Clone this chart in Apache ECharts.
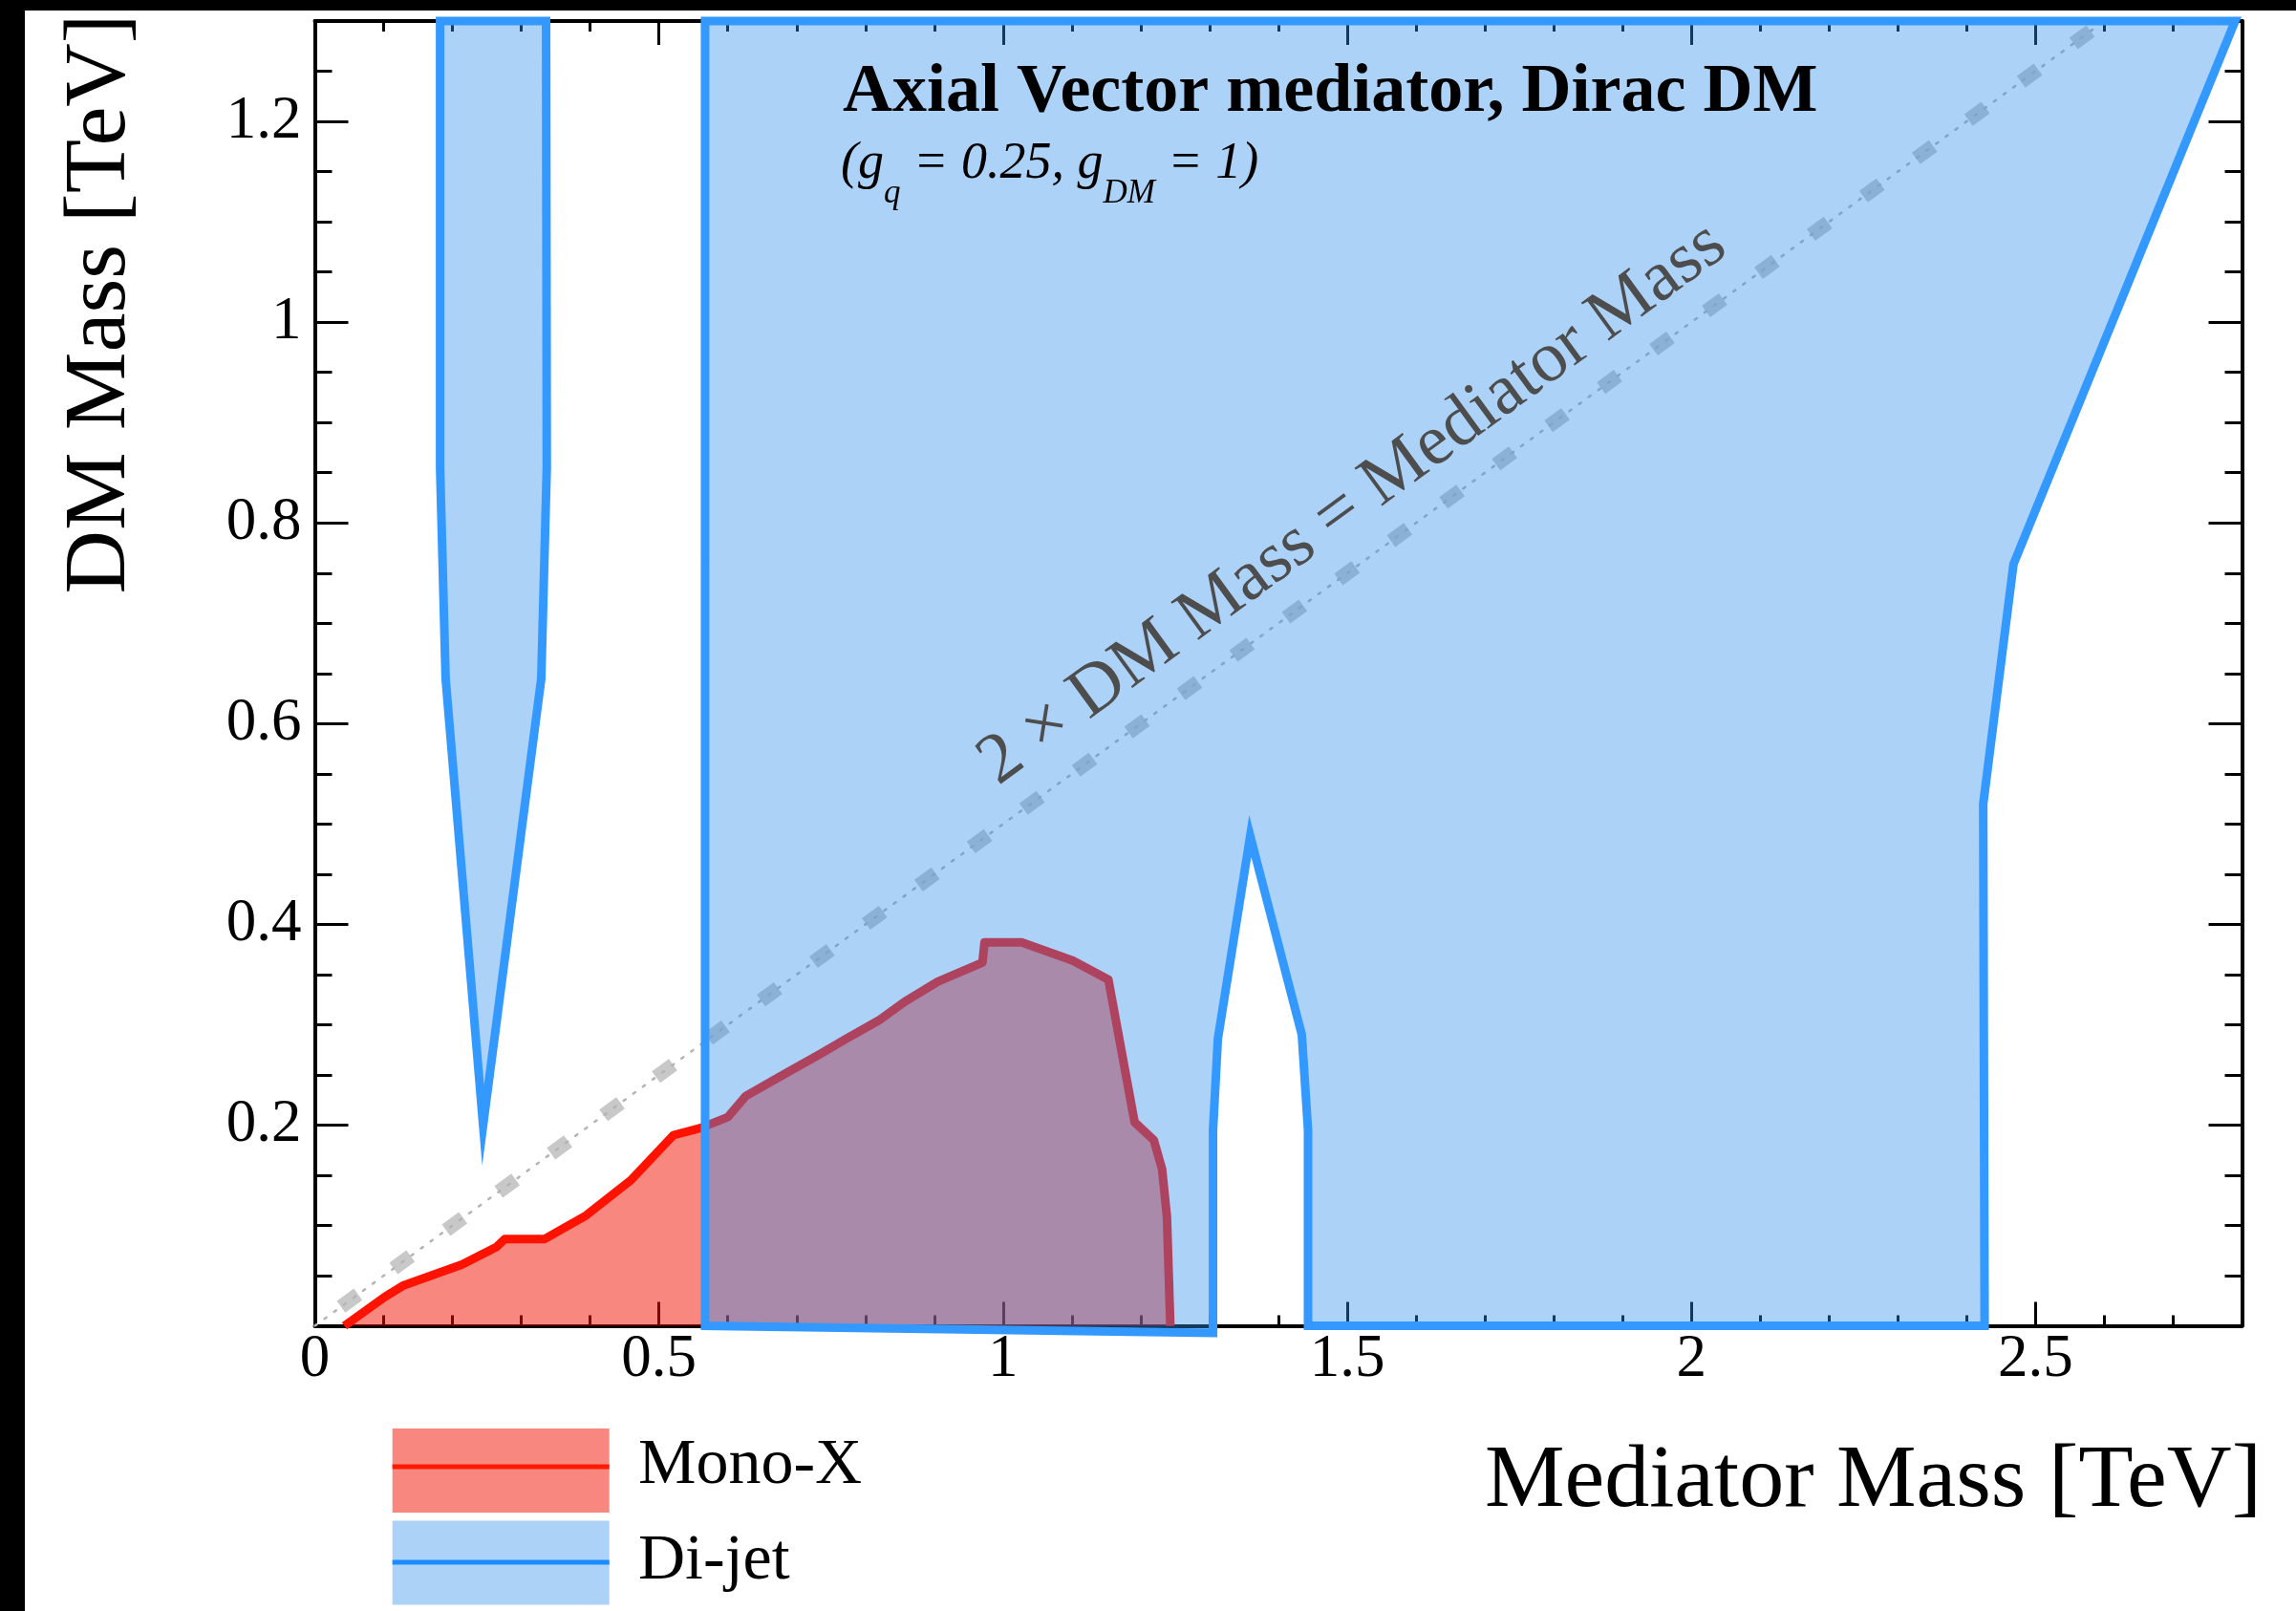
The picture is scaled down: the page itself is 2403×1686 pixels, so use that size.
<!DOCTYPE html>
<html>
<head>
<meta charset="utf-8">
<script src="https://cdn.jsdelivr.net/npm/echarts@6/dist/echarts.min.js"></script>
<style>
  html, body { margin: 0; padding: 0; background: #ffffff; }
  #chart { width: 2403px; height: 1686px; }
</style>
</head>
<body>
<div id="chart"></div>
<script>
// Mono-X exclusion contour: [mediator mass TeV, DM mass TeV]
const monoX = [
  [0.043, 0], [0.102, 0.029], [0.128, 0.040], [0.2135, 0.061], [0.264, 0.0786],
  [0.276, 0.0866], [0.334, 0.0866], [0.394, 0.110], [0.459, 0.145], [0.521, 0.190],
  [0.560, 0.197], [0.600, 0.208], [0.626, 0.229], [0.680, 0.250], [0.732, 0.270],
  [0.772, 0.286], [0.821, 0.305], [0.857, 0.323], [0.905, 0.343], [0.970, 0.362],
  [0.973, 0.382], [1.027, 0.382], [1.101, 0.364], [1.153, 0.345], [1.191, 0.203],
  [1.219, 0.185], [1.231, 0.156], [1.238, 0.109], [1.243, 0]
];

// Di-jet excluded regions (closed contours)
const dijetNarrow = [
  [0.182, 1.3], [0.182, 0.855], [0.190, 0.645], [0.2445, 0.20],
  [0.329, 0.645], [0.337, 0.855], [0.336, 1.3]
];
const dijetWide = [
  [0.567, 0], [0.567, 1.3], [2.79, 1.3], [2.468, 0.759], [2.424, 0.52],
  [2.426, 0], [1.443, 0], [1.443, 0.195], [1.434, 0.29], [1.359, 0.488],
  [1.312, 0.286], [1.305, 0.195], [1.305, -0.007]
];

// Reference line 2 x DM mass = mediator mass
const diagonal = [[0, 0], [2.6, 1.3]];

// Axis ranges
const xRange = [0, 2.8];
const yRange = [0, 1.3];

const FONT = 'Liberation Serif';
const BLUE_FILL = 'rgba(50,142,237,0.4)';
const BLUE_LINE = '#3399ff';
const RED_FILL = 'rgba(242,16,0,0.5)';
const RED_LINE = '#ff1200';

const chart = echarts.init(document.getElementById('chart'), null, { renderer: 'canvas' });

function xAxisDef(position, interval, tickLen, showLine, showLabel) {
  return {
    type: 'value', position: position, min: xRange[0], max: xRange[1], interval: interval,
    axisLine: { show: showLine, onZero: false, lineStyle: { color: '#000', width: 4 } },
    axisTick: { show: true, inside: true, length: tickLen, lineStyle: { color: '#000', width: 3 } },
    axisLabel: { show: showLabel, margin: 4, fontSize: 63, fontFamily: FONT, color: '#000', showMaxLabel: false },
    splitLine: { show: false }
  };
}
function yAxisDef(position, interval, tickLen, showLine, showLabel) {
  return {
    type: 'value', position: position, min: yRange[0], max: yRange[1], interval: interval,
    axisLine: { show: showLine, onZero: false, lineStyle: { color: '#000', width: 4 } },
    axisTick: { show: true, inside: true, length: tickLen, lineStyle: { color: '#000', width: 3 } },
    axisLabel: { show: showLabel, margin: 14, fontSize: 63, fontFamily: FONT, color: '#000', showMinLabel: false, showMaxLabel: false },
    splitLine: { show: false }
  };
}

function polygonRenderer(points) {
  return function (params, api) {
    if (params.dataIndex !== 0) return null;
    return {
      type: 'polygon',
      shape: { points: points.map(function (p) { return api.coord(p); }) },
      style: { fill: BLUE_FILL, stroke: BLUE_LINE, lineWidth: 9, lineJoin: 'miter', miterLimit: 12 }
    };
  };
}

chart.setOption({
  animation: false,
  backgroundColor: '#ffffff',
  grid: { left: 329.5, right: 56.5, top: 22, bottom: 298.4, containLabel: false, outerBoundsMode: 'none' },
  xAxis: [
    xAxisDef('bottom', 0.5, 25, true, true),
    xAxisDef('bottom', 0.1, 11, false, false),
    xAxisDef('top', 0.5, 25, true, false),
    xAxisDef('top', 0.1, 11, false, false)
  ],
  yAxis: [
    yAxisDef('left', 0.2, 35, true, true),
    yAxisDef('left', 0.05, 18, false, false),
    yAxisDef('right', 0.2, 35, true, false),
    yAxisDef('right', 0.05, 18, false, false)
  ],
  series: [
    {
      type: 'line', data: diagonal, symbol: 'none', silent: true, z: 2,
      lineStyle: { color: '#c8c8c8', width: 15, type: [22, 46], dashOffset: 34, cap: 'butt' }
    },
    {
      type: 'line', data: diagonal, symbol: 'none', silent: true, z: 2,
      lineStyle: { color: '#b4b4b4', width: 2.5, type: [2.5, 10], cap: 'round' }
    },
    {
      type: 'line', name: 'Mono-X', data: monoX, symbol: 'none', silent: true, z: 3,
      lineStyle: { color: RED_LINE, width: 9, join: 'round' },
      areaStyle: { color: RED_FILL, opacity: 1, origin: 'start' }
    },
    { type: 'custom', name: 'Di-jet', data: dijetNarrow, renderItem: polygonRenderer(dijetNarrow), clip: false, silent: true, z: 4 },
    { type: 'custom', name: 'Di-jet', data: dijetWide, renderItem: polygonRenderer(dijetWide), clip: false, silent: true, z: 4 }
  ]
});

// Text measurement for the subscripted coupling label
const measureCtx = document.createElement('canvas').getContext('2d');
function textWidth(str, size, style) {
  measureCtx.font = (style || 'normal') + ' normal ' + size + 'px "' + FONT + '"';
  return measureCtx.measureText(str).width;
}

function txt(x, y, text, size, opts) {
  opts = opts || {};
  return {
    type: 'text', x: x, y: y, rotation: opts.rotation || 0, z: 100,
    style: {
      text: text, fontFamily: FONT, fontSize: size,
      fontWeight: opts.weight || 'normal', fontStyle: opts.style || 'normal',
      fill: opts.color || '#000', align: opts.align || 'left', verticalAlign: 'middle'
    }
  };
}

// Diagonal label placed along the 2 x DM = mediator line
const p0 = chart.convertToPixel({ xAxisIndex: 0, yAxisIndex: 0 }, diagonal[0]);
const p1 = chart.convertToPixel({ xAxisIndex: 0, yAxisIndex: 0 }, diagonal[1]);
const ang = Math.atan2(p0[1] - p1[1], p1[0] - p0[0]);
const anchor = chart.convertToPixel({ xAxisIndex: 0, yAxisIndex: 0 }, [1.553, 0.7765]);
const offs = 55;
const labelPos = [anchor[0] - offs * Math.sin(ang), anchor[1] - offs * Math.cos(ang)];

// Coupling subtitle pieces
const subMain = 54, subSmall = 35;
let sx = 880;
const subY = 172, subLowY = 203;
const subPieces = [];
[['(g', false], ['q', true], [' = 0.25, g', false], ['DM', true], [' = 1)', false]].forEach(function (piece) {
  const size = piece[1] ? subSmall : subMain;
  subPieces.push(txt(sx, piece[1] ? subLowY : subY, piece[0], size, { style: 'italic' }));
  sx += textWidth(piece[0], size, 'italic');
});

chart.setOption({
  graphic: [
    { type: 'rect', z: 100, shape: { x: 0, y: 0, width: 26, height: 1686 }, style: { fill: '#000' } },
    { type: 'rect', z: 100, shape: { x: 0, y: 0, width: 2403, height: 11 }, style: { fill: '#000' } },

    txt(882, 97, 'Axial Vector mediator, Dirac DM', 72, { weight: 'bold' }),
    ...subPieces,

    txt(labelPos[0], labelPos[1], '2 \u00d7 DM Mass = Mediator Mass', 75, { rotation: ang, align: 'center', color: '#4d4d4d' }),

    txt(106, 318, 'DM Mass [TeV]', 92, { rotation: Math.PI / 2, align: 'center' }),
    txt(2367, 1551, 'Mediator Mass [TeV]', 94, { align: 'right' }),

    // Legend
    { type: 'rect', z: 100, shape: { x: 410.7, y: 1495, width: 227, height: 88 }, style: { fill: RED_FILL } },
    { type: 'line', z: 101, shape: { x1: 410.7, y1: 1535, x2: 637.7, y2: 1535 }, style: { stroke: '#ff1a00', lineWidth: 5 } },
    { type: 'rect', z: 100, shape: { x: 410.7, y: 1591.5, width: 227, height: 88 }, style: { fill: BLUE_FILL } },
    { type: 'line', z: 101, shape: { x1: 410.7, y1: 1635, x2: 637.7, y2: 1635 }, style: { stroke: '#1a8cff', lineWidth: 5 } },
    txt(668, 1534, 'Mono-X', 68),
    txt(668, 1634, 'Di-jet', 68)
  ]
});
</script>
</body>
</html>
